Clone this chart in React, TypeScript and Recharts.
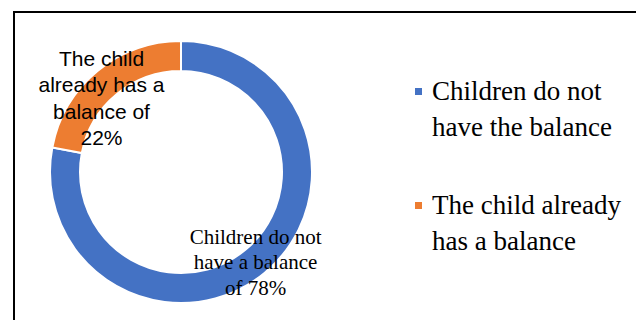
import { PieChart, Pie, Cell, Legend } from 'recharts';

// Share of children with / without balance
const categories = ['Children do not have the balance', 'The child already has a balance'];
const values = [78, 22];
const sliceLabels = [
  ['Children do not', 'have a balance', 'of 78%'],
  ['The child', 'already has a', 'balance of', '22%'],
];
const legendLines = [
  ['Children do not', 'have the balance'],
  ['The child already', 'has a balance'],
];
const COLORS = ['#4472C4', '#ED7D31'];

const data = categories.map((name, i) => ({ name, value: values[i] }));

const RADIAN = Math.PI / 180;

// label tweaks per slice: distance from centre + small nudge
const LABEL_STYLE = [
  { r: 117, dx: 0, dy: 0, lh: 25.5, size: 21, font: '"Liberation Serif", serif' },
  { r: 109, dx: -10, dy: 10, lh: 26.5, size: 21, font: '"Liberation Sans", sans-serif' },
];

const renderLabel = (props: any) => {
  const { cx, cy, midAngle, index } = props;
  const s = LABEL_STYLE[index];
  const x = cx + s.r * Math.cos(-midAngle * RADIAN) + s.dx;
  const y = cy + s.r * Math.sin(-midAngle * RADIAN) + s.dy;
  const lines = sliceLabels[index];
  const startY = y - ((lines.length - 1) * s.lh) / 2;
  return (
    <text
      x={x}
      y={startY}
      textAnchor="middle"
      fill="#000"
      style={{ fontFamily: s.font, fontSize: s.size }}
    >
      {lines.map((l, i) => (
        <tspan key={i} x={x} y={startY + i * s.lh} dominantBaseline="central">
          {l}
        </tspan>
      ))}
    </text>
  );
};

const renderLegend = () => (
  <div style={{ fontFamily: '"Liberation Serif", serif', fontSize: 27, color: '#000' }}>
    {legendLines.map((lines, i) => (
      <div key={i} style={{ display: 'flex', alignItems: 'flex-start', marginBottom: i === 0 ? 42 : 0 }}>
        <span
          style={{
            display: 'inline-block',
            width: 7,
            height: 7,
            background: COLORS[i],
            marginTop: 15,
            marginRight: 10,
          }}
        />
        <div style={{ lineHeight: '36px' }}>
          {lines.map((l, j) => (
            <div key={j}>{l}</div>
          ))}
        </div>
      </div>
    ))}
  </div>
);

export default function App() {
  return (
    <div style={{ position: 'fixed', left: 0, top: 0, width: 636, height: 320, background: '#fff' }}>
      <div
        style={{
          position: 'absolute',
          left: 13,
          top: 11,
          width: 623,
          height: 309,
          borderTop: '2px solid #000',
          borderLeft: '2px solid #000',
          boxSizing: 'border-box',
        }}
      />
      <PieChart
        width={636}
        height={320}
        margin={{ top: 0, right: 0, bottom: 0, left: 0 }}
        style={{ position: 'absolute', left: 0, top: 0 }}
      >
        <Pie
          data={data}
          dataKey="value"
          nameKey="name"
          cx={181}
          cy={172}
          outerRadius={131}
          innerRadius={101}
          startAngle={90}
          endAngle={-270}
          stroke="#fff"
          strokeWidth={2}
          label={renderLabel}
          labelLine={false}
          isAnimationActive={false}
        >
          {data.map((_, i) => (
            <Cell key={i} fill={COLORS[i]} />
          ))}
        </Pie>
        <Legend
          layout="vertical"
          verticalAlign="top"
          align="right"
          content={renderLegend}
          wrapperStyle={{ left: 415, top: 73, width: 221 }}
        />
      </PieChart>
    </div>
  );
}
